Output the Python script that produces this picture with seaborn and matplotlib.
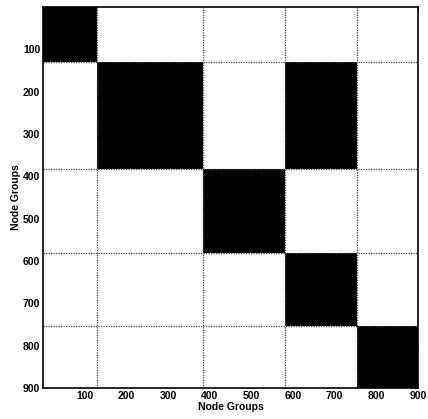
import numpy as np
import matplotlib
matplotlib.use("Agg")
import matplotlib.pyplot as plt
import seaborn as sns

# group boundaries along node index (0..900)
edges = [0, 130, 383, 582, 753, 900]
# which group blocks are filled (row group, column group)
filled = [(0, 0), (1, 1), (1, 3), (2, 2), (3, 3), (4, 4)]
tick_vals = [100, 200, 300, 400, 500, 600, 700, 800, 900]

sizes = np.diff(edges)
block = np.zeros((len(sizes), len(sizes)))
for r, c in filled:
    block[r, c] = 1
mat = np.repeat(np.repeat(block, sizes, axis=0), sizes, axis=1)

sns.set_style("white")
plt.rcParams['font.family'] = ['Liberation Sans', 'DejaVu Sans']

fig = plt.figure(figsize=(4.28, 4.19), dpi=100)
ax = fig.add_axes([0.1005, 0.074, 0.876, 0.909])
sns.heatmap(mat, cmap=["white", "black"], cbar=False, ax=ax,
            xticklabels=False, yticklabels=False, rasterized=True)

# dotted group boundaries
for e in edges[1:-1]:
    ax.axvline(e, color="#444444", lw=0.9, ls=(0, (1, 1)))
    ax.axhline(e, color="#444444", lw=0.9, ls=(0, (1, 1)))

ax.set_xlim(0, 900)
ax.set_ylim(900, 0)
ax.set_xticks(tick_vals)
ax.set_xticklabels([str(v) for v in tick_vals], rotation=0, fontweight="bold")
ax.set_yticks(tick_vals)
ax.set_yticklabels([str(v) for v in tick_vals], rotation=0, fontweight="bold")
ax.tick_params(direction="in", length=3, width=0.6, labelsize=7.5,
               top=True, right=True, pad=2, colors="black")
for s in ax.spines.values():
    s.set_visible(True)
    s.set_linewidth(1.2)
    s.set_color("black")
ax.set_xlabel("Node Groups", fontsize=7.5, labelpad=1, fontweight="bold", color="black")
ax.set_ylabel("Node Groups", fontsize=7.5, labelpad=1, fontweight="bold", color="black")

fig.savefig("out.png", dpi=100)
